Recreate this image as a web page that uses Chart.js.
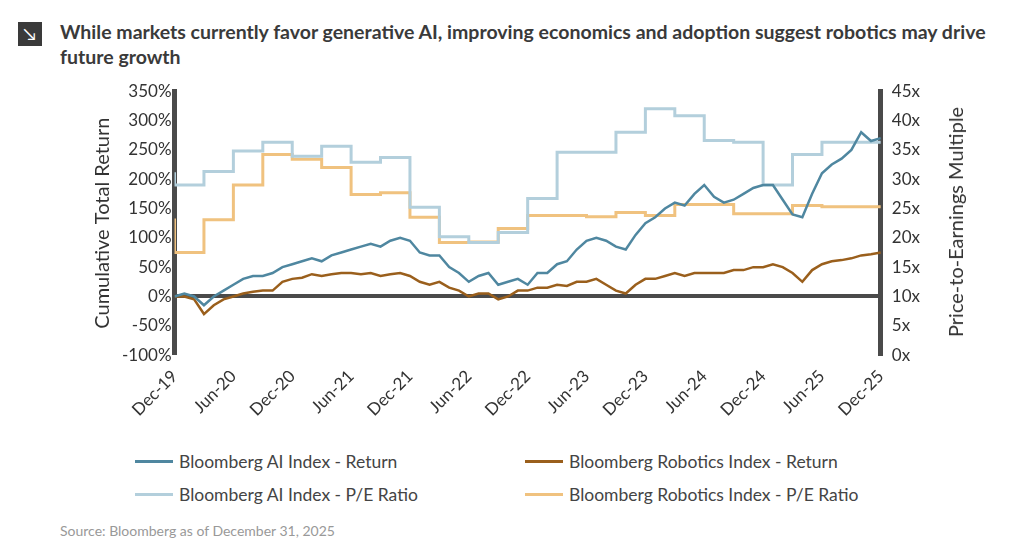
<!DOCTYPE html>
<html><head><meta charset="utf-8">
<script src="https://cdn.jsdelivr.net/npm/chart.js@4"></script>
<style>
body{margin:0;width:1024px;height:554px;background:#fff;font-family:Lato,"Open Sans",sans-serif;position:relative;overflow:hidden}
#title{position:absolute;left:60px;top:19px;width:930px;font-size:19.5px;font-weight:bold;color:#3a3a3a;line-height:25px}
#icon{position:absolute;left:18px;top:22px;width:24px;height:24px;background:#3a3a3a;color:#fff;font-size:17px;text-align:center;line-height:24px}
#wrap{position:absolute;left:60px;top:78px;width:940px;height:345px}
#rtitle{position:absolute;left:955px;top:222px;transform:translate(-50%,-50%) rotate(-90deg);font-size:20px;color:#333;white-space:nowrap}
#legend{position:absolute;left:135px;top:451px;font-size:17.5px;color:#444}
.it{position:absolute;white-space:nowrap}
.sw{display:inline-block;width:38px;height:3px;vertical-align:middle;margin-right:6px;position:relative;top:-2px}
#src{position:absolute;left:60px;top:522px;font-size:14px;color:#999}
</style></head><body>
<div id="icon">&#8600;</div>
<div id="title">While markets currently favor generative AI, improving economics and adoption suggest robotics may drive future growth</div>
<div id="wrap"><canvas id="c"></canvas></div>
<div id="rtitle">Price-to-Earnings Multiple</div>
<div id="legend">
<div class="it" style="left:0;top:0"><span class="sw" style="background:#4f87a0"></span>Bloomberg AI Index - Return</div>
<div class="it" style="left:390px;top:0"><span class="sw" style="background:#9a5f1c"></span>Bloomberg Robotics Index - Return</div>
<div class="it" style="left:0;top:33px"><span class="sw" style="background:#b3cfdc"></span>Bloomberg AI Index - P/E Ratio</div>
<div class="it" style="left:390px;top:33px"><span class="sw" style="background:#f0c27f"></span>Bloomberg Robotics Index - P/E Ratio</div>
</div>
<div id="src">Source: Bloomberg as of December 31, 2025</div>
<script>
const tickLabels = ['Dec-19','Jun-20','Dec-20','Jun-21','Dec-21','Jun-22','Dec-22','Jun-23','Dec-23','Jun-24','Dec-24','Jun-25','Dec-25'];
// monthly, Dec-19 .. Dec-25 (%)
const aiReturn = [0,5,0,-15,0,10,20,30,35,35,40,50,55,60,65,60,70,75,80,85,90,85,95,100,95,75,70,70,50,40,25,35,40,20,25,30,20,40,40,55,60,80,95,100,95,85,80,105,125,135,150,160,155,175,190,170,160,165,175,185,190,190,165,140,135,175,210,225,235,250,280,265,270];
const roboReturn = [0,0,-5,-30,-15,-5,0,5,8,10,10,25,30,32,38,35,38,40,40,38,40,35,38,40,35,25,20,25,15,10,0,5,5,-5,0,10,10,15,15,20,18,25,25,30,20,10,5,20,30,30,35,40,35,40,40,40,40,45,45,50,50,55,50,40,25,45,55,60,62,65,70,72,75];
// quarterly, Dec-19 .. Dec-25 (x)
const aiPE = [31.2,29,31.3,34.8,36.3,33.9,35.6,32.9,33.7,25.2,20.2,19.2,20.9,26.7,34.6,34.6,38,42,40.8,36.6,36.3,29,34.2,36.3,36.3];
const roboPE = [23.3,17.5,23.1,29,34.2,33.4,32,27.4,27.7,23.5,19.2,19.3,21.6,23.8,23.8,23.6,24.3,23.8,25.7,25.7,24.1,24.1,25.5,25.3,25.3];

const monthly = a => a.map((v,i)=>({x:i,y:v}));
const quarterly = a => a.map((v,i)=>({x:i*3,y:v}));
const tickFont = {family:'Lato',size:17};

new Chart(document.getElementById('c'), {
  type:'line',
  data:{datasets:[
    {data:monthly(aiReturn),borderColor:'#4f87a0',borderWidth:2.5,yAxisID:'y',order:1},
    {data:monthly(roboReturn),borderColor:'#9a5f1c',borderWidth:2.5,yAxisID:'y',order:2},
    {data:quarterly(aiPE),borderColor:'#b3cfdc',borderWidth:3,stepped:'after',yAxisID:'y1',order:3},
    {data:quarterly(roboPE),borderColor:'#f0c27f',borderWidth:3,stepped:'after',yAxisID:'y1',order:4}
  ]},
  options:{
    responsive:true,maintainAspectRatio:false,animation:false,
    elements:{point:{radius:0},line:{tension:0}},
    plugins:{legend:{display:false},tooltip:{enabled:false}},
    layout:{padding:{top:6,left:27,right:77}},
    scales:{
      x:{type:'linear',min:0,max:72,
        afterBuildTicks:ax=>{ax.ticks=tickLabels.map((_,i)=>({value:i*6}));},
        ticks:{callback:v=>tickLabels[v/6],font:tickFont,color:'#333',maxRotation:45,minRotation:45,autoSkip:false},
        grid:{display:false},border:{display:false}},
      y:{position:'left',min:-100,max:350,
        ticks:{stepSize:50,callback:v=>v+'%',font:tickFont,color:'#333'},
        grid:{color:c=>c.tick.value===0?'#4a4a4a':'rgba(0,0,0,0)',lineWidth:c=>c.tick.value===0?4:0,drawTicks:false},
        border:{color:'#4a4a4a',width:5},
        title:{display:true,text:'Cumulative Total Return',font:{family:'Lato',size:20},color:'#333'}},
      y1:{position:'right',min:0,max:45,
        ticks:{stepSize:5,callback:v=>v+'x',font:tickFont,color:'#333'},
        grid:{display:false},
        border:{color:'#4a4a4a',width:5}}
    }
  }
});
</script>
</body></html>
